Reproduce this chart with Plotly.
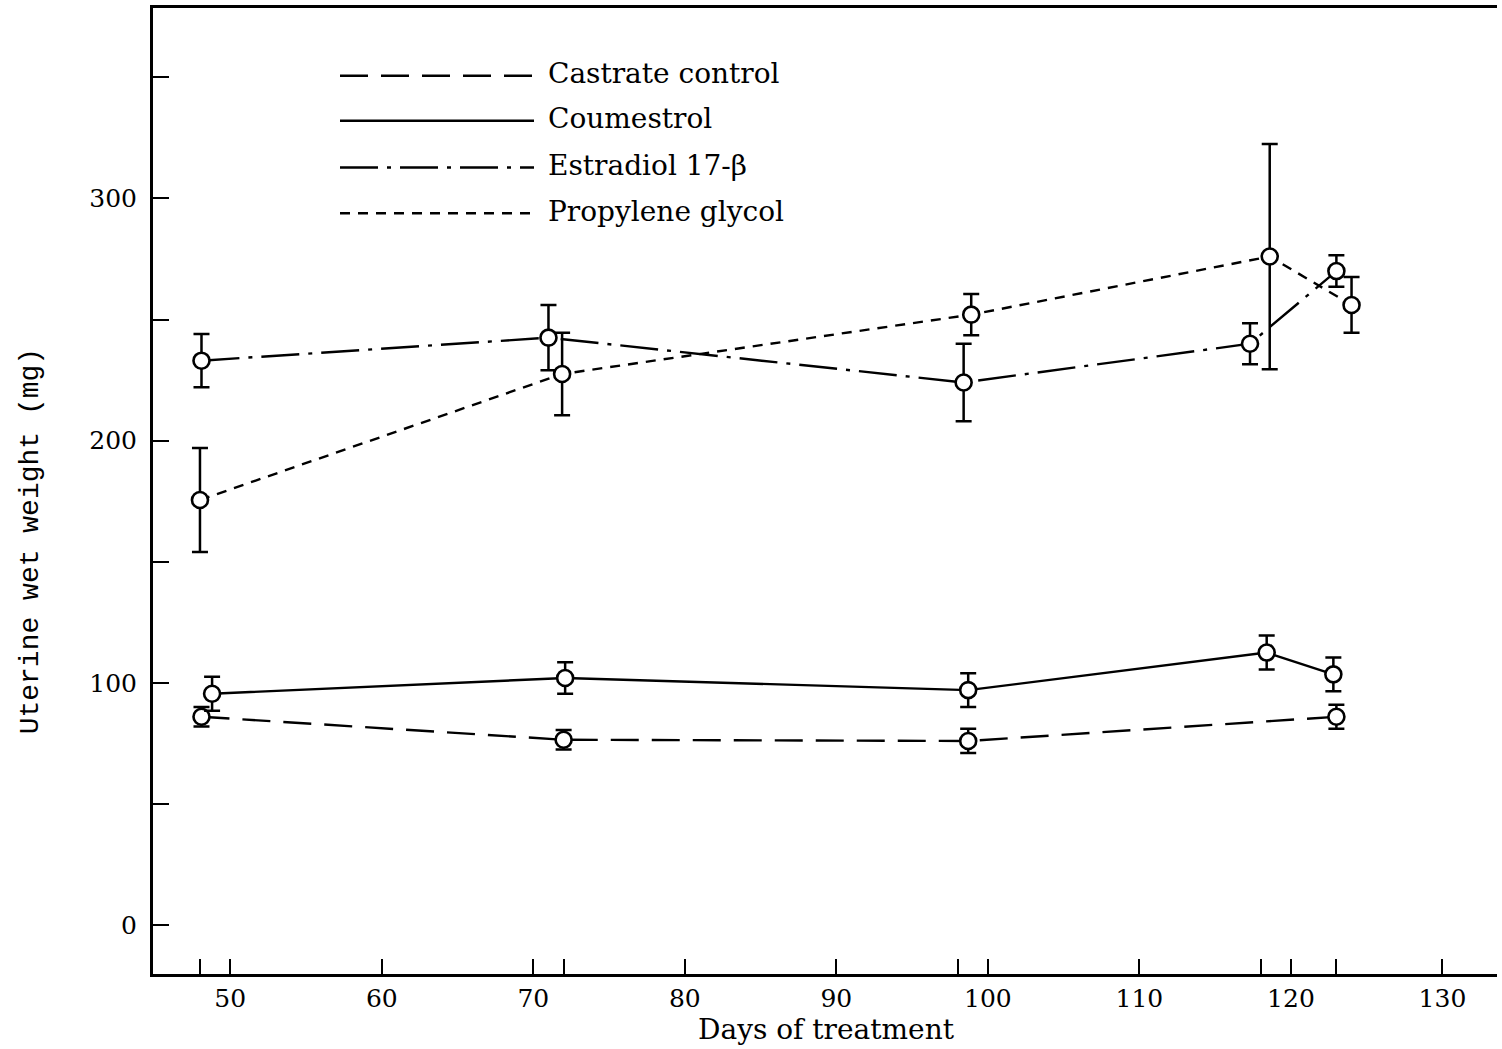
import plotly.graph_objects as go

# ---- data ----
castrate_days = [48.1, 72.0, 98.7, 123.0]
castrate_mg = [86, 76.5, 76, 86]
castrate_err = [4, 4, 5, 5]

coumestrol_days = [48.8, 72.1, 98.7, 118.4, 122.8]
coumestrol_mg = [95.5, 102, 97, 112.5, 103.5]
coumestrol_err = [7, 6.5, 7, 7, 7]

estradiol_days = [48.1, 71.0, 98.4, 117.3, 123.0]
estradiol_mg = [233, 242.5, 224, 240, 270]
estradiol_err = [11, 13.5, 16, 8.5, 6.5]

propylene_days = [48.0, 71.9, 98.9, 118.6, 124.0]
propylene_mg = [175.5, 227.5, 252, 276, 256]
propylene_err = [21.5, 17, 8.5, 46.5, 11.5]

series_names = ["Castrate control", "Coumestrol", "Estradiol 17-\u03b2", "Propylene glycol"]

x_labeled_ticks = [50, 60, 70, 80, 90, 100, 110, 120, 130]
x_extra_ticks = [48, 72, 98, 118, 123]
y_labeled_ticks = [0, 100, 200, 300]
y_extra_ticks = [50, 150, 250, 350]

# ---- styles ----
dashes = ["28px,13px", "solid", "38px,9px,4px,9px", "10px,8px"]
W, H = 1502, 1049
L, R, T, B = 153, 5, 5, 75
PW, PH = W - L - R, H - T - B

def px_x(p):
    return (p - L) / PW

def px_y(p):
    return (H - B - p) / PH

fig = go.Figure()
data = [
    (castrate_days, castrate_mg, castrate_err),
    (coumestrol_days, coumestrol_mg, coumestrol_err),
    (estradiol_days, estradiol_mg, estradiol_err),
    (propylene_days, propylene_mg, propylene_err),
]
for (xs, ys, es), name, dash in zip(data, series_names, dashes):
    fig.add_trace(go.Scatter(
        x=xs, y=ys, name=name, mode="lines+markers",
        line=dict(color="black", width=2.4, dash=dash),
        marker=dict(symbol="circle", size=16, color="white",
                    line=dict(color="black", width=2.6)),
        error_y=dict(type="data", array=es, visible=True, color="black",
                     thickness=2.5, width=8),
        showlegend=False,
    ))

# ---- manual legend (long line samples like the original) ----
legend_y = [71, 116, 163, 209]
for name, dash, yy in zip(series_names, dashes, legend_y):
    fig.add_shape(type="line", xref="paper", yref="paper",
                  x0=px_x(340), x1=px_x(534), y0=px_y(yy + 2), y1=px_y(yy + 2),
                  line=dict(color="black", width=2.5, dash=dash))
    fig.add_annotation(xref="paper", yref="paper", x=px_x(546), y=px_y(yy),
                       text=name, showarrow=False, xanchor="left", yanchor="middle",
                       font=dict(family="DejaVu Serif", size=28, color="black"))

# axis titles
fig.add_annotation(xref="paper", yref="paper", x=px_x(826), y=px_y(1030),
                   text="Days of treatment", showarrow=False,
                   xanchor="center", yanchor="middle",
                   font=dict(family="DejaVu Serif", size=28, color="black"))
fig.add_annotation(xref="paper", yref="paper", x=px_x(30), y=px_y(540),
                   text="Uterine wet weight (mg)", showarrow=False, textangle=-90,
                   xanchor="center", yanchor="middle",
                   font=dict(family="Liberation Mono", size=28, color="black"))

fig.update_layout(
    width=W, height=H,
    margin=dict(l=L, r=R, t=T, b=B),
    plot_bgcolor="white", paper_bgcolor="white",
    font=dict(family="DejaVu Serif", color="black"),
)
fig.update_xaxes(
    range=[44.9, 133.6], showgrid=False, zeroline=False,
    showline=True, linecolor="black", linewidth=3, mirror=True,
    tickmode="array", tickvals=x_labeled_ticks,
    ticks="inside", ticklen=15, tickwidth=2, tickcolor="black",
    tickfont=dict(family="DejaVu Serif", size=25, color="black"),
    ticklabelstandoff=0,
    minor=dict(tickmode="array", tickvals=x_extra_ticks, ticks="inside",
               ticklen=15, tickwidth=2, tickcolor="black", showgrid=False),
)
fig.update_yaxes(
    range=[-20.2, 378.6], showgrid=False, zeroline=False,
    showline=True, linecolor="black", linewidth=3,
    tickmode="array", tickvals=y_labeled_ticks,
    ticks="inside", ticklen=16, tickwidth=2, tickcolor="black",
    tickfont=dict(family="DejaVu Serif", size=25, color="black"),
    ticklabelstandoff=8,
    minor=dict(tickmode="array", tickvals=y_extra_ticks, ticks="inside",
               ticklen=16, tickwidth=2, tickcolor="black", showgrid=False),
)

fig.write_html("out.html")
